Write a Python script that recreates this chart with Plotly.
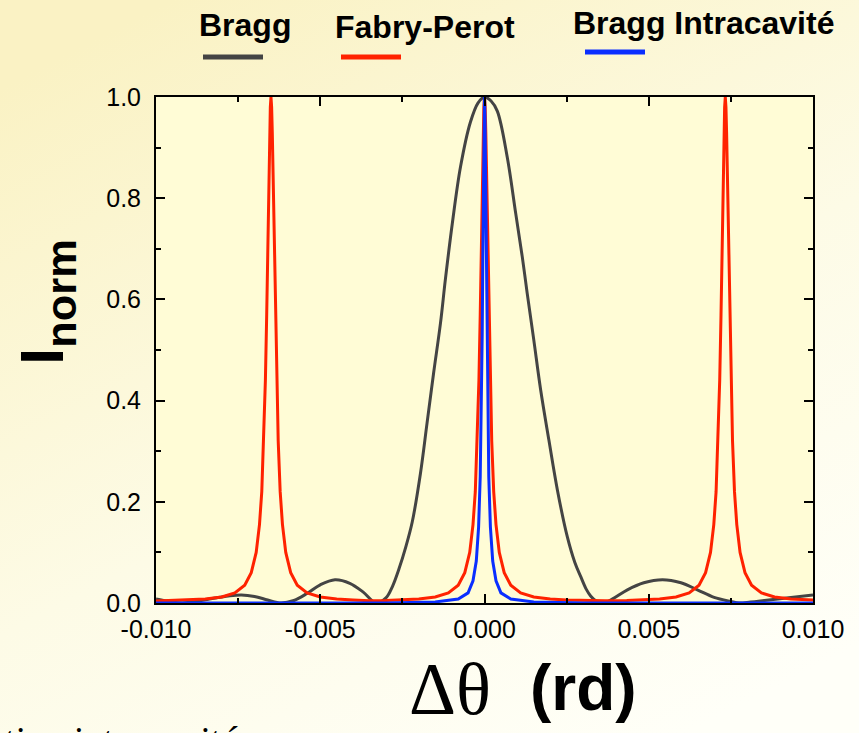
import base64
import plotly.graph_objects as go

# ---------------- data ----------------
x_bragg = [-0.0100, -0.0096, -0.0092, -0.0087, -0.0082, -0.0078, -0.0074, -0.0070, -0.0066, -0.0062,
           -0.0058, -0.0054, -0.0050, -0.00455, -0.0041, -0.0037, -0.0033, -0.0030, -0.0028, -0.0026,
           -0.0024, -0.0022, -0.00195, -0.00175, -0.00155, -0.00134, -0.00119, -0.00098, -0.00073,
           -0.00043, -0.0002, 0.0, 0.0002, 0.00039, 0.00069, 0.00095, 0.00115, 0.00130, 0.00150,
           0.00171, 0.00196, 0.00222, 0.00252, 0.00275, 0.00293, 0.0031, 0.00323, 0.0034, 0.0036,
           0.0039, 0.00435, 0.00485, 0.00542, 0.00598, 0.00648, 0.00699, 0.0075, 0.00775, 0.0081,
           0.00852, 0.00933, 0.0100]
y_bragg = [0.008, 0.003, 0.000, 0.004, 0.010, 0.014, 0.016, 0.013, 0.006, 0.000,
           0.005, 0.019, 0.036, 0.046, 0.039, 0.022, 0.000, 0.010, 0.033, 0.068,
           0.110, 0.160, 0.256, 0.355, 0.454, 0.553, 0.640, 0.750, 0.862,
           0.950, 0.988, 1.000, 0.992, 0.972, 0.882, 0.770, 0.684, 0.612, 0.520,
           0.421, 0.322, 0.223, 0.131, 0.080, 0.052, 0.027, 0.014, 0.004, 0.000,
           0.008, 0.026, 0.040, 0.046, 0.040, 0.026, 0.011, 0.003, 0.000, 0.002,
           0.005, 0.011, 0.016]

x_fp = [-0.01000, -0.00900, -0.00850, -0.00800, -0.00760, -0.00730, -0.00710, -0.00695, -0.00685,
        -0.00678, -0.00672, -0.00667, -0.00663, -0.00660, -0.00657, -0.00654, -0.00652, -0.00650,
        -0.00648, -0.00646, -0.00643, -0.00640, -0.00637, -0.00633, -0.00628, -0.00622, -0.00615,
        -0.00605, -0.00590, -0.00570, -0.00540, -0.00500, -0.00450, -0.00400, -0.00350,
        -0.00300, -0.00250, -0.00200, -0.00150, -0.00110, -0.00080, -0.00060, -0.00045, -0.00035,
        -0.00028, -0.00022, -0.00017, -0.00013, -0.00010, -0.00007, -0.00004, -0.00002, 0.0,
        0.00002, 0.00004, 0.00007, 0.00010, 0.00013, 0.00017, 0.00022, 0.00028, 0.00035, 0.00045,
        0.00060, 0.00080, 0.00110, 0.00150, 0.00200, 0.00250, 0.00300, 0.00367,
        0.00433, 0.00483, 0.00533, 0.00583, 0.00623, 0.00653, 0.00673, 0.00688, 0.00698, 0.00705,
        0.00711, 0.00716, 0.00720, 0.00723, 0.00726, 0.00729, 0.00731, 0.00733, 0.00735, 0.00737,
        0.00740, 0.00743, 0.00746, 0.00750, 0.00755, 0.00761, 0.00768, 0.00778, 0.00793, 0.00813,
        0.00843, 0.00883, 0.00933, 0.01000]
y_fp = [0.004, 0.006, 0.008, 0.012, 0.020, 0.035, 0.060, 0.100, 0.155,
        0.220, 0.320, 0.440, 0.570, 0.690, 0.820, 0.930, 0.980, 1.000,
        0.980, 0.930, 0.820, 0.690, 0.570, 0.440, 0.320, 0.220, 0.155,
        0.100, 0.060, 0.035, 0.020, 0.012, 0.008, 0.006, 0.0045,
        0.005, 0.006, 0.008, 0.012, 0.020, 0.035, 0.060, 0.100, 0.155,
        0.220, 0.320, 0.440, 0.570, 0.690, 0.820, 0.930, 0.980, 1.000,
        0.980, 0.930, 0.820, 0.690, 0.570, 0.440, 0.320, 0.220, 0.155, 0.100,
        0.060, 0.035, 0.020, 0.012, 0.008, 0.006, 0.005, 0.0045,
        0.005, 0.006, 0.008, 0.012, 0.020, 0.035, 0.060, 0.100, 0.155, 0.220,
        0.320, 0.440, 0.570, 0.690, 0.820, 0.930, 0.980, 1.000, 0.980, 0.930,
        0.820, 0.690, 0.570, 0.440, 0.320, 0.220, 0.155, 0.100, 0.060, 0.035,
        0.020, 0.012, 0.008, 0.006]

x_intra = [-0.0100, -0.0030, -0.0015, -0.0008, -0.0005, -0.00035, -0.00025, -0.00018, -0.00013,
           -0.00010, -0.00007, -0.00005, -0.00003, -0.000015, 0.0, 0.000015, 0.00003, 0.00005,
           0.00007, 0.00010, 0.00013, 0.00018, 0.00025, 0.00035, 0.0005, 0.0008, 0.0015, 0.0030, 0.0100]
y_intra = [0.0, 0.0, 0.002, 0.008, 0.020, 0.044, 0.083, 0.150, 0.250,
           0.360, 0.530, 0.690, 0.860, 0.960, 1.000, 0.960, 0.860, 0.690,
           0.530, 0.360, 0.250, 0.150, 0.083, 0.044, 0.020, 0.008, 0.002, 0.0, 0.0]

series_names = ["Bragg", "Fabry-Perot", "Bragg Intracavité"]
series_colors = ["#444444", "#FF2200", "#0A2EFF"]

x_tick_vals = [-0.010, -0.005, 0.0, 0.005, 0.010]
x_tick_text = ["-0.010", "-0.005", "0.000", "0.005", "0.010"]
y_tick_vals = [0.0, 0.2, 0.4, 0.6, 0.8, 1.0]
y_tick_text = ["0.0", "0.2", "0.4", "0.6", "0.8", "1.0"]

# ---------------- layout geometry ----------------
W, H = 859, 733
L, R, T, B = 156, 46, 97, 130
PW, PH = W - L - R, H - T - B


def px(x):
    return (x - L) / PW


def py(y):
    return (H - B - y) / PH


svg = (
    '<svg xmlns="http://www.w3.org/2000/svg" width="859" height="733">'
    '<defs><linearGradient id="g" x1="0.2" y1="0" x2="0.8" y2="1">'
    '<stop offset="0" stop-color="#FAF2C4"/>'
    '<stop offset="0.55" stop-color="#FDFBE6"/>'
    '<stop offset="1" stop-color="#FFFFF8"/>'
    '</linearGradient></defs>'
    '<rect width="859" height="733" fill="url(#g)"/></svg>'
)
bg_uri = "data:image/svg+xml;base64," + base64.b64encode(svg.encode()).decode()

fig = go.Figure()
for xs, ys, name, col, shape in [
    (x_bragg, y_bragg, series_names[0], series_colors[0], "spline"),
    (x_fp, y_fp, series_names[1], series_colors[1], "linear"),
    (x_intra, y_intra, series_names[2], series_colors[2], "linear"),
]:
    fig.add_trace(go.Scatter(x=xs, y=ys, mode="lines", name=name,
                             line=dict(color=col, width=3, shape=shape),
                             showlegend=False, hoverinfo="skip"))

axis_common = dict(showline=True, linecolor="black", linewidth=2, mirror="ticks",
                   ticks="inside", ticklen=9, tickwidth=1.5, tickcolor="black",
                   showgrid=False, zeroline=False,
                   tickfont=dict(family="Liberation Sans, Arial, sans-serif", size=25, color="black"))

fig.update_xaxes(range=[-0.010, 0.010], tickvals=x_tick_vals, ticktext=x_tick_text,
                 ticklabelstandoff=3,
                 minor=dict(dtick=0.0025, ticklen=5, tickwidth=1.5, tickcolor="black", ticks="inside"),
                 **axis_common)
fig.update_yaxes(range=[0.0, 1.0], tickvals=y_tick_vals, ticktext=y_tick_text,
                 ticklabelstandoff=8,
                 minor=dict(dtick=0.1, ticklen=5, tickwidth=1.5, tickcolor="black", ticks="inside"),
                 **axis_common)

shapes = [dict(type="rect", xref="x domain", yref="y domain", x0=0, x1=1, y0=0, y1=1,
               fillcolor="#FFFCD6", line=dict(width=0), layer="below")]
annotations = []
legend_pos = [(245, 25, 203, 263, 57), (425, 27, 341, 401, 57), (703, 23, 585, 645, 52)]
for (cx, cy, lx0, lx1, ly), name, col in zip(legend_pos, series_names, series_colors):
    annotations.append(dict(text="<b>" + name + "</b>", xref="paper", yref="paper",
                            x=px(cx), y=py(cy), xanchor="center", yanchor="middle", showarrow=False,
                            font=dict(family="Liberation Sans, Arial", size=32, color="black")))
    shapes.append(dict(type="line", xref="paper", yref="paper", x0=px(lx0), x1=px(lx1),
                       y0=py(ly), y1=py(ly), line=dict(color=col, width=5)))

annotations.append(dict(text="<b>I<sub>norm</sub></b>", xref="paper", yref="paper",
                        x=px(46), y=py(302), xanchor="center", yanchor="middle", textangle=-90,
                        showarrow=False,
                        font=dict(family="Liberation Sans, Arial", size=62, color="black")))
annotations.append(dict(text="Δθ", xref="paper", yref="paper", x=px(450), y=py(689),
                        xanchor="center", yanchor="middle", showarrow=False,
                        font=dict(family="Liberation Serif, Times New Roman, serif", size=73, color="black")))
annotations.append(dict(text="<b>(rd)</b>", xref="paper", yref="paper", x=px(583), y=py(688),
                        xanchor="center", yanchor="middle", showarrow=False,
                        font=dict(family="Liberation Sans, Arial", size=64, color="black")))
annotations.append(dict(text="<i>Diffraction intracavité</i>", xref="paper", yref="paper",
                        x=px(240), y=py(740), xanchor="right", yanchor="middle", showarrow=False,
                        font=dict(family="Liberation Serif, Times New Roman, serif", size=38, color="black")))

fig.update_layout(
    width=W, height=H, margin=dict(l=L, r=R, t=T, b=B),
    paper_bgcolor="#FDFBE6", plot_bgcolor="#FFFCD6",
    shapes=shapes, annotations=annotations,
    images=[dict(source=bg_uri, xref="paper", yref="paper", x=-L / PW, y=1 + T / PH,
                 sizex=W / PW, sizey=H / PH, sizing="stretch", xanchor="left", yanchor="top",
                 layer="below")],
)

fig.write_html("out.html", config={"displayModeBar": False},
               post_script="document.body.style.margin='0';document.body.style.overflow='hidden';")
